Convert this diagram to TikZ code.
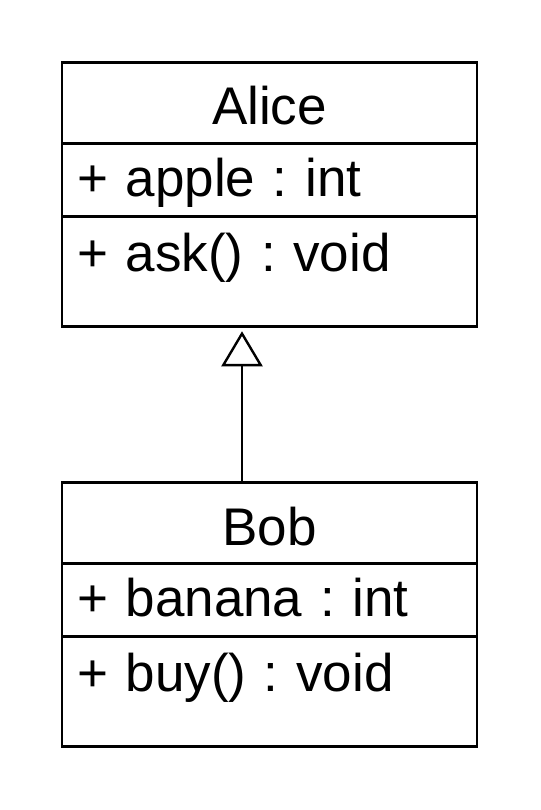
\documentclass[tikz,border=0pt]{standalone}
\usepackage{fontspec}
\setmainfont{Liberation Sans}
\frenchspacing
\usetikzlibrary{positioning,arrows.meta}
\tikzset{
  umlpart/.style={draw, line width=2.8pt, outer sep=0pt, inner ysep=0pt, minimum width=415pt, font=\fontsize{53}{64}\selectfont},
  classname/.style={umlpart, minimum height=80.5pt, text height=44pt, text depth=0pt},
  classfields/.style={umlpart, minimum height=73.5pt, inner xsep=15pt, text width=385pt, align=left, text height=40pt, text depth=7pt},
  classmethods/.style={umlpart, minimum height=109.5pt, inner xsep=15pt, text width=385pt, align=left, text height=40pt, text depth=40pt},
  inherit/.style={line width=2.4pt, -{Triangle[open, width=41pt, length=35pt]}, shorten >=5pt}
}
\begin{document}
\begin{tikzpicture}[x=1pt,y=1pt]
			\useasboundingbox (0,0) rectangle (540,-810);
			%super class
			\node[classname] (alicename) at (269.5,-103) {Alice};
			\node[classfields, below=0pt of alicename] (alicefields) {+ apple : int};
			\node[classmethods, below=0pt of alicefields] (alicemethods) {+ ask() : void};
			%sub class
			\node[classname] (bobname) at (269.5,-523) {Bob};
			\node[classfields, below=0pt of bobname] (bobfields) {+ banana : int};
			\node[classmethods, below=0pt of bobfields] (bobmethods) {+ buy() : void};
			%generalization
			\draw[inherit] ([xshift=-27.5pt]bobname.north) -- ([xshift=-27.5pt]alicemethods.south);
		\end{tikzpicture}
\end{document}
